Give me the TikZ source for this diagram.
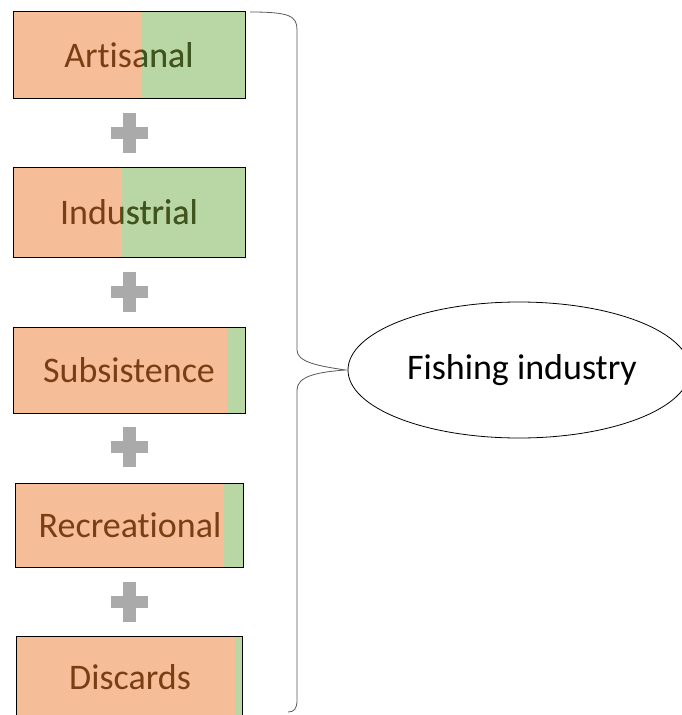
\documentclass[tikz,border=0pt]{standalone}
\usepackage{fontspec}
\setmainfont[Ligatures=NoCommon]{Carlito}
\usetikzlibrary{shapes.geometric}

\definecolor{orangefill}{RGB}{246,190,152}
\definecolor{greenfill}{RGB}{185,215,165}
\definecolor{textbrown}{RGB}{122,62,20}
\definecolor{textgreen}{RGB}{60,86,32}
\definecolor{plusgray}{RGB}{170,170,170}

\tikzset{
	boxline/.style={draw=black, line width=0.9pt},
	boxtext/.style={font=\fontsize{36}{40}\selectfont, text=textbrown, inner sep=0pt},
	bracket/.style={draw=black!65, line width=0.8pt}
}

\begin{document}
\begin{tikzpicture}[x=1pt, y=-1pt]
	\clip (0,0) rectangle (682,715);
	\fill[white] (0,0) rectangle (682,715);
	% Artisanal
	\fill[orangefill] (13,11) rectangle (142,98);
	\fill[greenfill] (142,11) rectangle (245,98);
	\draw[boxline] (13,11) rectangle (245,98);
	\node[boxtext] (art) at (129,55) {Artisanal};
	\begin{scope}
		\clip (142,11) rectangle (245,98);
		\node[boxtext, text=textgreen] (artg) at (129,55) {Artisanal};
	\end{scope}
	% Industrial
	\fill[orangefill] (13,167) rectangle (122,257);
	\fill[greenfill] (122,167) rectangle (245,257);
	\draw[boxline] (13,167) rectangle (245,257);
	\node[boxtext] (ind) at (129,212) {Industrial};
	\begin{scope}
		\clip (122,167) rectangle (245,257);
		\node[boxtext, text=textgreen] (indg) at (129,212) {Industrial};
	\end{scope}
	% Subsistence
	\fill[orangefill] (13,327) rectangle (227,413);
	\fill[greenfill] (227,327) rectangle (245,413);
	\draw[boxline] (13,327) rectangle (245,413);
	\node[boxtext] (sub) at (129,370) {Subsistence};
	% Recreational
	\fill[orangefill] (15,483) rectangle (224,567);
	\fill[greenfill] (224,483) rectangle (243,567);
	\draw[boxline] (15,483) rectangle (243,567);
	\node[boxtext] (rec) at (130,525) {Recreational};
	% Discards
	\fill[orangefill] (16,636) rectangle (235,725);
	\fill[greenfill] (235,636) rectangle (242,725);
	\draw[boxline] (16,636) rectangle (242,725);
	\node[boxtext] (dis) at (130,677) {Discards};
	% plus signs
	\foreach \y in {133,292,447,602} {
		\fill[plusgray] (111,\y-6) rectangle (148,\y+6);
		\fill[plusgray] (123,\y-20) rectangle (136,\y+20);
	}
	% total
	\node[ellipse, draw=black, line width=0.8pt, minimum width=342, minimum height=136] (fish) at (519,370) {};
	\node[font=\fontsize{36}{40}\selectfont, inner sep=0pt] (fishtxt) at (522,370) {Fishing industry};
	\coordinate (tip) at ([xshift=-2pt]fish.west);
	\draw[bracket] (250,12) .. controls (290,12) and (297,16) .. (297,30)
		-- (297,350) .. controls (297,362) and (318,366) .. (tip)
		.. controls (318,372) and (297,376) .. (297,390)
		-- (297,700) .. controls (297,709) and (294,712) .. (288,712);
\end{tikzpicture}
\end{document}
